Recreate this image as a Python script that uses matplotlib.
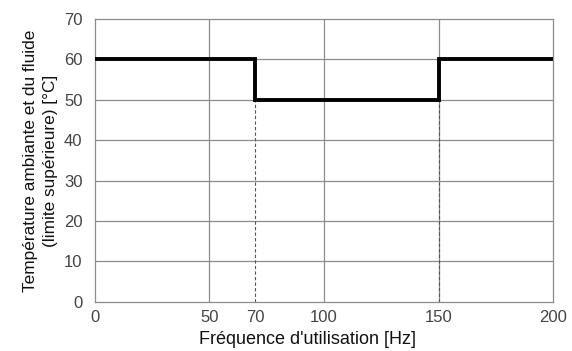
import matplotlib
matplotlib.use("Agg")
import matplotlib.pyplot as plt

plt.rcParams['font.family'] = ['Liberation Sans', 'DejaVu Sans']

# Data
freq_edges = [0, 70, 150, 200]          # Hz breakpoints
temp_levels = [60, 50, 60]              # °C limit in each segment
change_points = [70, 150]               # dashed markers
change_low = [50, 50]
x_ticks = [0, 50, 70, 100, 150, 200]
y_ticks = [0, 10, 20, 30, 40, 50, 60, 70]
x_grid = [50, 100, 150]

fig = plt.figure(figsize=(5.72, 3.51), dpi=100)
ax = fig.add_axes([0.166, 0.140, 0.801, 0.806])

ax.set_xlim(0, 200)
ax.set_ylim(0, 70)

grid_color = '#8c8c8c'
for yv in y_ticks[1:-1]:
    ax.axhline(yv, color=grid_color, lw=0.9, zorder=1)
for xv in x_grid:
    ax.axvline(xv, color=grid_color, lw=0.9, zorder=1)

for xp, yl in zip(change_points, change_low):
    ax.plot([xp, xp], [0, yl], color='#555555', lw=0.8, ls=(0, (3, 2)), zorder=2)

xs, ys = [], []
for i, lvl in enumerate(temp_levels):
    xs += [freq_edges[i], freq_edges[i + 1]]
    ys += [lvl, lvl]
ax.plot(xs, ys, color='black', lw=2.8, solid_joinstyle='miter', zorder=3)

for s in ax.spines.values():
    s.set_color(grid_color)
    s.set_linewidth(0.9)

ax.set_xticks(x_ticks)
ax.set_yticks(y_ticks)
ax.tick_params(length=0, labelsize=12, colors='#444444')
ax.tick_params(axis='x', pad=6)
ax.tick_params(axis='y', pad=9)

ax.set_xlabel("Fréquence d'utilisation [Hz]", fontsize=13, color='#111111')
ax.xaxis.set_label_coords(0.464, -0.102)
ax.xaxis.label.set_va('top')
ax.set_ylabel("Température ambiante et du fluide\n(limite supérieure) [°C]",
              fontsize=12.4, color='#111111', labelpad=4, linespacing=1.4)

fig.savefig("out.png", dpi=100, facecolor='white')
